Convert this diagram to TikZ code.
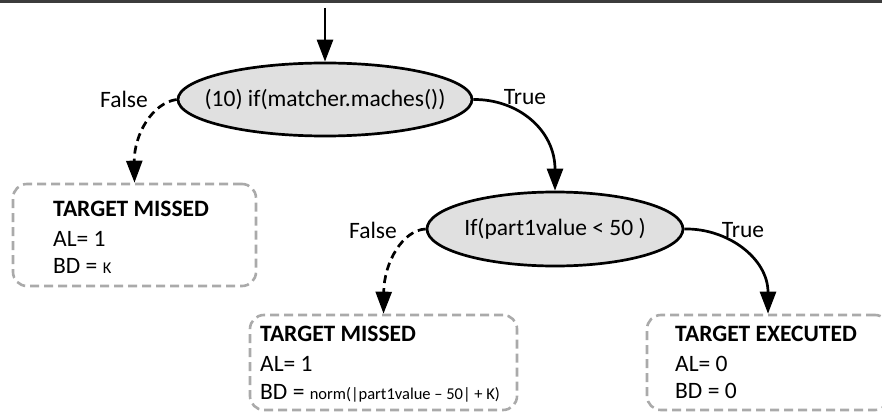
\documentclass[tikz,border=0pt]{standalone}
\usepackage{fontspec}
\setmainfont{Carlito}
\usetikzlibrary{shapes.geometric,arrows.meta}
\definecolor{boxgray}{RGB}{170,170,170}
\definecolor{condfill}{RGB}{224,224,224}
\definecolor{rulegray}{RGB}{60,60,60}
\newcommand{\bigtxt}{\fontsize{23.5}{28}\selectfont}
\newcommand{\smalltxt}{\fontsize{16.5}{20}\selectfont}
\begin{document}
\begin{tikzpicture}[x=1pt,y=-1pt,
  decision/.style={ellipse, draw, line width=2.7pt, fill=condfill, inner sep=0pt, font=\bigtxt},
  outcome/.style={draw=boxgray, line width=2.6pt, dash pattern=on 9pt off 5pt, rounded corners=14pt, inner sep=0pt},
  flow/.style={line width=2.7pt, -{Triangle[length=22pt,width=16pt]}},
  missflow/.style={flow, dash pattern=on 8pt off 5pt},
  branch/.style={font=\bigtxt, inner sep=0pt},
  entry/.style={anchor=base west, inner sep=0pt, font=\bigtxt},
]
\useasboundingbox (0,0) rectangle (882,414);

% rule along the top edge
\coordinate (ruleL) at (0,1.5);
\coordinate (ruleR) at (882,1.5);
\draw[rulegray, line width=2.5pt] (ruleL) -- (ruleR);

% decisions
\node[decision, minimum width=294pt, minimum height=73pt] (e1) at (325,99.5)
  {\makebox[0pt]{(10) if(matcher.maches())}};
\node[decision, minimum width=256pt, minimum height=74pt] (e2) at (555,229)
  {\makebox[0pt]{If(part1value < 50 )}};

% outcomes
\node[outcome, minimum width=243pt, minimum height=102pt] (b1) at (134.5,235) {};
\node[outcome, minimum width=267pt, minimum height=95pt] (b2) at (383.5,362.5) {};
\node[outcome, minimum width=242pt, minimum height=95pt] (b3) at (768,362.5) {};

\node[entry, font=\bigtxt\bfseries] (b1t) at (53,216) {TARGET MISSED};
\node[entry] (b1a) at (53,246) {AL= 1};
\node[entry] (b1d) at (53,273) {BD = {\smalltxt K}};

\node[entry, font=\bigtxt\bfseries] (b2t) at (260,341) {TARGET MISSED};
\node[entry] (b2a) at (260,371) {AL= 1};
\node[entry] (b2d) at (260,399) {BD = {\smalltxt norm(|part1value – 50| + K)}};

\node[entry, font=\bigtxt\bfseries] (b3t) at (675,341) {TARGET EXECUTED};
\node[entry] (b3a) at (675,371) {AL= 0};
\node[entry] (b3d) at (675,398) {BD = 0};

% branch labels
\node[branch] (f1) at (124,99) {False};
\node[branch] (t1) at (525,97) {True};
\node[branch] (f2) at (373,230) {False};
\node[branch] (t2) at (743,230) {True};

% connectors
\coordinate (entry) at (325,8);
\draw[flow] (entry) -- (e1.north);
\draw[missflow] (e1.west) .. controls (152,103) and (134,135) .. (b1.north);
\draw[flow] (e1.east) .. controls (518,99) and (555,130) .. (e2.north);
\draw[missflow] (e2.west) .. controls (403,230) and (384,262) .. (b2.north);
\draw[flow] (e2.east) .. controls (727,228) and (768,258) .. (b3.north);
\end{tikzpicture}
\end{document}
